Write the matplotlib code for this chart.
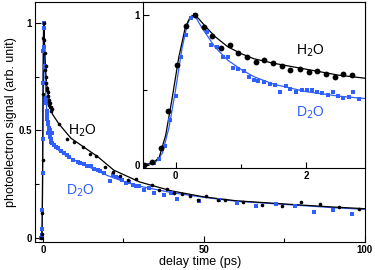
import numpy as np
import matplotlib
matplotlib.use('Agg')
import matplotlib.pyplot as plt
from matplotlib.ticker import MultipleLocator

plt.rcParams['font.family'] = ['Liberation Sans', 'DejaVu Sans']

BLUE = '#2f5fff'

# early-time data (ps), shown in the inset and at the start of the main plot
h2o_t_short = [-0.49, -0.36, -0.23, -0.11, 0.03, 0.16, 0.30, 0.43, 0.56, 0.69, 0.83, 0.96,
               1.09, 1.23, 1.36, 1.50, 1.63, 1.76, 1.90, 2.04, 2.17, 2.30, 2.44, 2.57, 2.70]
h2o_s_short = [0.0, 0.018, 0.116, 0.36, 0.67, 0.93, 1.0, 0.92, 0.86, 0.78, 0.80, 0.75,
               0.72, 0.69, 0.70, 0.68, 0.66, 0.635, 0.64, 0.62, 0.63, 0.61, 0.59, 0.61, 0.60]
d2o_t_short = [-0.49, -0.33, -0.25, -0.16, -0.08, 0.0, 0.08, 0.16, 0.24, 0.30, 0.48, 0.55,
               0.64, 0.72, 0.80, 0.88, 0.96, 1.05, 1.12, 1.20, 1.27, 1.35, 1.44, 1.52, 1.60,
               1.69, 1.76, 1.85, 1.93, 2.01, 2.09, 2.17, 2.25, 2.33, 2.41, 2.49, 2.56, 2.65,
               2.72, 2.81]
d2o_s_short = [0.0, 0.01, 0.04, 0.13, 0.30, 0.46, 0.72, 0.87, 0.98, 1.0, 0.89, 0.80,
               0.79, 0.72, 0.72, 0.65, 0.64, 0.63, 0.59, 0.57, 0.56, 0.555, 0.54, 0.535, 0.49,
               0.53, 0.51, 0.49, 0.50, 0.50, 0.50, 0.49, 0.48, 0.47, 0.49, 0.46, 0.445, 0.455,
               0.49, 0.44]

# later data (ps), main plot only
h2o_t_long = [5.0, 7.5, 9.8, 12.3, 14.7, 16.6, 19.4, 21.7, 24.0, 26.5, 28.8, 33.9, 36.1,
              38.5, 40.7, 43.1, 45.6, 48.2, 50.5, 54.3, 56.5, 62.3, 68.2, 74.2, 80.2,
              86.1, 92.1, 98.1]
h2o_s_long = [0.53, 0.46, 0.445, 0.425, 0.39, 0.38, 0.33, 0.308, 0.288, 0.27, 0.273, 0.247,
              0.223, 0.226, 0.208, 0.205, 0.192, 0.174, 0.192, 0.177, 0.177, 0.164, 0.153,
              0.146, 0.164, 0.158, 0.141, 0.135]
d2o_t_long = [3.4, 4.0, 4.6, 5.5, 6.7, 7.4, 8.2, 9.4, 10.8, 11.6, 12.9, 13.8, 14.9, 16.0,
              17.0, 17.8, 19.0, 20.7, 21.7, 22.6, 23.8, 24.7, 25.8, 26.8, 27.9, 29.0, 29.9,
              31.5, 32.8, 34.6, 37.7, 39.7, 41.8, 48.5, 54.6, 60.3, 66.1, 72.3, 78.3,
              84.3, 90.2, 96.1]
d2o_s_long = [0.433, 0.425, 0.417, 0.405, 0.394, 0.385, 0.374, 0.362, 0.355, 0.35, 0.343,
              0.335, 0.332, 0.322, 0.316, 0.31, 0.30, 0.262, 0.293, 0.285, 0.278, 0.27,
              0.254, 0.26, 0.246, 0.24, 0.239, 0.223, 0.23, 0.208, 0.20, 0.208, 0.18,
              0.169, 0.174, 0.161, 0.149, 0.158, 0.146, 0.119, 0.13, 0.11]

# fitted curves
h2o_fit_t = [-0.5, -0.35, -0.25, -0.15, -0.05, 0.05, 0.15, 0.22, 0.28, 0.35, 0.45, 0.6,
             0.8, 1.0, 1.2, 1.5, 2.0, 2.5, 3.0, 5.0, 8.7, 13.9, 17.0, 22.0, 30.0, 34.0,
             40.0, 50.0, 60.0, 75.0, 90.0, 100.0]
h2o_fit_s = [0.0, 0.01, 0.05, 0.2, 0.45, 0.72, 0.92, 0.985, 1.0, 0.98, 0.93, 0.86,
             0.79, 0.745, 0.71, 0.68, 0.64, 0.60, 0.575, 0.53, 0.464, 0.41, 0.378, 0.315,
             0.26, 0.243, 0.218, 0.19, 0.172, 0.157, 0.143, 0.135]
d2o_fit_t = [-0.5, -0.3, -0.2, -0.1, 0.0, 0.1, 0.18, 0.25, 0.32, 0.4, 0.6, 0.8, 1.0,
             1.2, 1.5, 2.0, 2.5, 3.0, 5.0, 7.0, 10.0, 15.0, 20.0, 25.0, 30.0, 40.0,
             50.0, 60.0, 75.0, 90.0, 100.0]
d2o_fit_s = [0.0, 0.02, 0.08, 0.25, 0.5, 0.78, 0.94, 1.0, 0.98, 0.92, 0.79, 0.70, 0.64,
             0.59, 0.54, 0.49, 0.46, 0.44, 0.405, 0.385, 0.36, 0.325, 0.29, 0.262, 0.24,
             0.21, 0.188, 0.17, 0.155, 0.14, 0.132]


def style_ticks(a):
    a.tick_params(direction='in', which='major', length=4, width=0.8, labelsize=7, pad=2)
    a.tick_params(direction='in', which='minor', length=3, width=0.8)
    for lab in a.get_xticklabels() + a.get_yticklabels():
        lab.set_fontweight('bold')


fig = plt.figure(figsize=(3.75, 2.7), dpi=100)
ax = fig.add_axes([0.093, 0.104, 0.88, 0.889])

ax.plot(d2o_fit_t, d2o_fit_s, color=BLUE, lw=0.9)
ax.plot(h2o_fit_t, h2o_fit_s, color='black', lw=0.9)
ax.plot(d2o_t_short + d2o_t_long, d2o_s_short + d2o_s_long, 's', color=BLUE, ms=2.2, mew=0)
ax.plot(h2o_t_short + h2o_t_long, h2o_s_short + h2o_s_long, 'o', color='black', ms=2.6, mew=0)

ax.set_xlim(-2.5, 100)
ax.set_ylim(-0.02, 1.1)
ax.set_xticks([0, 50, 100])
ax.set_xticklabels(['0', '50', '100'])
ax.xaxis.set_minor_locator(MultipleLocator(25))
ax.set_yticks([0, 0.5, 1])
ax.set_yticklabels(['0', '0.5', '1'])
ax.yaxis.set_minor_locator(MultipleLocator(0.25))
style_ticks(ax)
ax.set_xlabel('delay time (ps)', fontsize=9, labelpad=1)
ax.set_ylabel('photoelectron signal (arb. unit)', fontsize=9, labelpad=1)
ax.text(12.2, 0.5, r'H$_2$O', fontsize=10, ha='center', va='center')
ax.text(11.5, 0.22, r'D$_2$O', fontsize=10, ha='center', va='center', color=BLUE)

# inset
ins = fig.add_axes([0.381, 0.378, 0.592, 0.615])
ins.plot(d2o_fit_t, d2o_fit_s, color=BLUE, lw=0.9)
ins.plot(h2o_fit_t, h2o_fit_s, color='black', lw=0.9)
ins.plot(d2o_t_short, d2o_s_short, 's', color=BLUE, ms=3.4, mew=0)
ins.plot(h2o_t_short, h2o_s_short, 'o', color='black', ms=4.2, mew=0)
ins.set_xlim(-0.5, 2.9)
ins.set_ylim(-0.02, 1.09)
ins.set_xticks([0, 2])
ins.set_xticklabels(['0', '2'])
ins.xaxis.set_minor_locator(MultipleLocator(1))
ins.set_yticks([0, 1])
ins.set_yticklabels(['0', '1'])
ins.yaxis.set_minor_locator(MultipleLocator(0.5))
style_ticks(ins)
ins.text(2.07, 0.76, r'H$_2$O', fontsize=10, ha='center', va='center')
ins.text(2.07, 0.35, r'D$_2$O', fontsize=10, ha='center', va='center', color=BLUE)

fig.savefig('out.png', dpi=100)
